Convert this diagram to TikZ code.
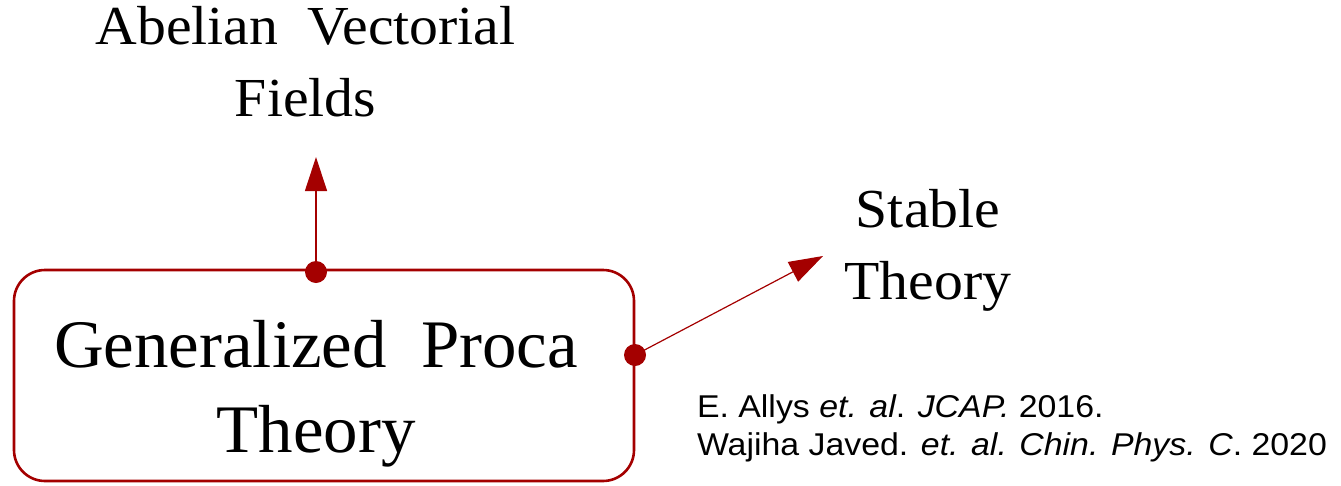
\documentclass[tikz,border=0pt]{standalone}
\usepackage{fontspec}
\setmainfont{Liberation Serif}
\newfontfamily\titlefont[FakeStretch=1.013]{Liberation Serif}
\newfontfamily\leaffont[FakeStretch=1.05]{Liberation Serif}
\newfontfamily\citefont[FakeStretch=1.075]{Liberation Sans}
\usetikzlibrary{arrows.meta}
\definecolor{procared}{HTML}{A40000}
\tikzset{
  every node/.style={inner sep=0pt, outer sep=0pt},
  mainbox/.style={draw=procared, line width=2.6pt, rounded corners=31pt,
    minimum width=620pt, minimum height=211pt},
  bigtext/.style={align=center, font=\titlefont\fontsize{68}{85}\selectfont},
  leaftext/.style={align=center, font=\leaffont\fontsize{55}{72}\selectfont},
  citetext/.style={align=left, font=\citefont\fontsize{31.5}{38}\selectfont},
  conn/.style={draw=procared, line width=1.2pt,
    -{Triangle[length=34pt, width=22pt]}},
  joint/.style={fill=procared}
}
\begin{document}
\begin{tikzpicture}[x=1pt, y=-1pt]
  \useasboundingbox (0,0) rectangle (1341,485);

  % main theory box and its title
  \node[mainbox] (box) at (324,375.5) {};
  \node[bigtext] (gp) at (316,393.5) {Generalized\ \ Proca\\Theory};

  % the two consequences
  \node[leaftext] (abel) at (305.5,62) {Abelian\ \ Vectorial\\Fields};
  \node[leaftext] (stable) at (928,250) {Stable\\Theory};

  % references
  \node[citetext, anchor=west] (refs) at (697,428)
    {E. Allys \textit{et. al}. \textit{JCAP.} 2016.\\
     Wajiha Javed. \textit{et. al. Chin. Phys. C}. 2020};

  % connector start points on the box and arrow tips
  \coordinate (topdot) at (316,272);
  \coordinate (rightdot) at (635,355);
  \coordinate (abeltip) at (316,157);
  \coordinate (stabletip) at (823,256);

  \draw[conn] (topdot) -- (abeltip);
  \draw[conn] (rightdot) -- (stabletip);
  \fill[joint] (topdot) circle (11pt);
  \fill[joint] (rightdot) circle (11pt);
\end{tikzpicture}
\end{document}
